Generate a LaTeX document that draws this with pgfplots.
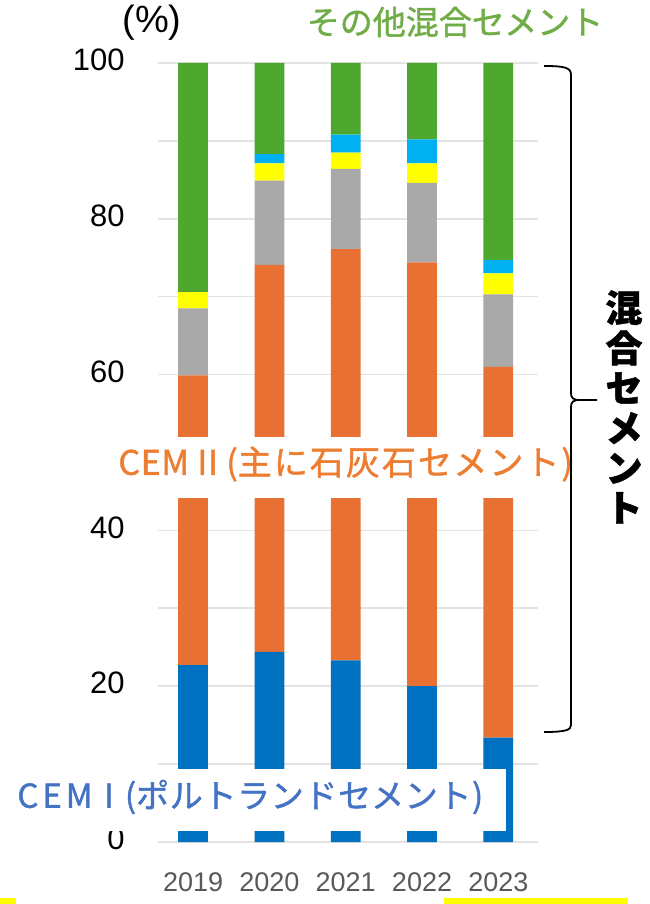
\documentclass[border=0pt]{standalone}
\usepackage{fontspec}
\setmainfont{Liberation Sans}
\newfontfamily\cjk[RawFeature={embolden=1.2}]{Noto Sans CJK JP}
\newfontfamily\cjkA[LetterSpace=12,RawFeature={embolden=1.2}]{Noto Sans CJK JP}
\newfontfamily\cjkB[LetterSpace=6,RawFeature={embolden=1.2}]{Noto Sans CJK JP}
\newfontfamily\cjkC[LetterSpace=2,RawFeature={embolden=1.2}]{Noto Sans CJK JP}
\usepackage{pgfplots}
\pgfplotsset{compat=1.18}

\definecolor{cemI}{HTML}{0070C0}
\definecolor{cemII}{HTML}{E87033}
\definecolor{slag}{HTML}{A9A9A9}
\definecolor{ash}{HTML}{FFFF00}
\definecolor{pozz}{HTML}{00B0F0}
\definecolor{other}{HTML}{4EA72E}
\definecolor{txtblue}{HTML}{4472C4}
\definecolor{txtorange}{HTML}{ED7D31}
\definecolor{txtgreen}{HTML}{70AD47}
\definecolor{gridc}{HTML}{E3E3E3}
\definecolor{ticklab}{HTML}{595959}

\begin{document}
\begin{tikzpicture}[x=0.5pt,y=0.5pt]
  \useasboundingbox (0,0) rectangle (649,904);
  \begin{axis}[
    at={(79pt,31pt)}, anchor=south west,
    scale only axis, width=190pt, height=389.5pt,
    ybar stacked, bar width=0.39,
    xmin=-0.46, xmax=4.52,
    ymin=0, ymax=100,
    axis line style={draw=none},
    major tick length=0pt, minor tick length=0pt,
    xtick={0,1,2,3,4},
    xticklabels={2019,2020,2021,2022,2023},
    ytick={0,20,...,100},
    minor ytick={10,30,...,90},
    ymajorgrids, yminorgrids,
    major grid style={gridc, line width=0.8pt},
    minor grid style={gridc, line width=0.8pt},
    /pgf/number format/assume math mode=true,
    yticklabel style={anchor=east, inner sep=0pt, xshift=-16.5pt, yshift=1.5pt,
      font=\fontsize{15.5}{16}\selectfont, text=black},
    xticklabel style={anchor=north, inner sep=0pt, yshift=-15pt,
      font=\fontsize{13.5}{14}\selectfont, text=ticklab},
  ]
    % CEM I
    \addplot[fill=cemI, draw=none] coordinates {(0,22.7) (1,24.4) (2,23.3) (3,20.0) (4,13.4)};
    % CEM II
    \addplot[fill=cemII, draw=none] coordinates {(0,37.2) (1,49.7) (2,52.8) (3,54.4) (4,47.6)};
    % gray
    \addplot[fill=slag, draw=none] coordinates {(0,8.6) (1,10.8) (2,10.3) (3,10.2) (4,9.3)};
    % yellow
    \addplot[fill=ash, draw=none] coordinates {(0,2.1) (1,2.2) (2,2.1) (3,2.5) (4,2.7)};
    % light blue
    \addplot[fill=pozz, draw=none] coordinates {(0,0) (1,1.2) (2,2.3) (3,3.1) (4,1.7)};
    % other blended
    \addplot[fill=other, draw=none] coordinates {(0,29.4) (1,11.7) (2,9.2) (3,9.8) (4,25.3)};
  \end{axis}

  % label boxes
  \fill[white] (90,467) rectangle (566,406);
  \fill[white] (5,135) rectangle (506,73);

  \node[font=\fontsize{19}{20}\selectfont] at (152,881) {(\%)};
  \node[font=\cjk\fontsize{16.5}{18}\selectfont, text=txtgreen] at (455,882) {その他混合セメント};
  \node[anchor=west, inner sep=0pt, text=txtorange] at (118,440)
    {\cjkC\fontsize{17}{18}\selectfont CEM II (\cjkB 主に石灰石セメント)};
  \node[anchor=west, inner sep=0pt, text=txtblue] at (17,107)
    {\cjkA\fontsize{16.5}{18}\selectfont CEM I (\cjkC ポルトランドセメント)};

  % brace
  \draw[line width=0.9pt] (544,838) .. controls (566,838) and (571,836) .. (571,829) -- (571,511)
    .. controls (571,506) and (573,504) .. (580,504) -- (597,504);
  \draw[line width=0.9pt] (580,504) .. controls (573,504) and (571,502) .. (571,497) -- (571,179)
    .. controls (571,174) and (566,172) .. (544,172);
  \node[align=center, font=\cjk\bfseries\fontsize{18.5}{20}\selectfont] at (624,497)
    {混\\合\\セ\\メ\\ン\\ト};

  \fill[ash] (0,6) rectangle (16,0);
  \fill[ash] (444,6) rectangle (628,0);
\end{tikzpicture}
\end{document}
